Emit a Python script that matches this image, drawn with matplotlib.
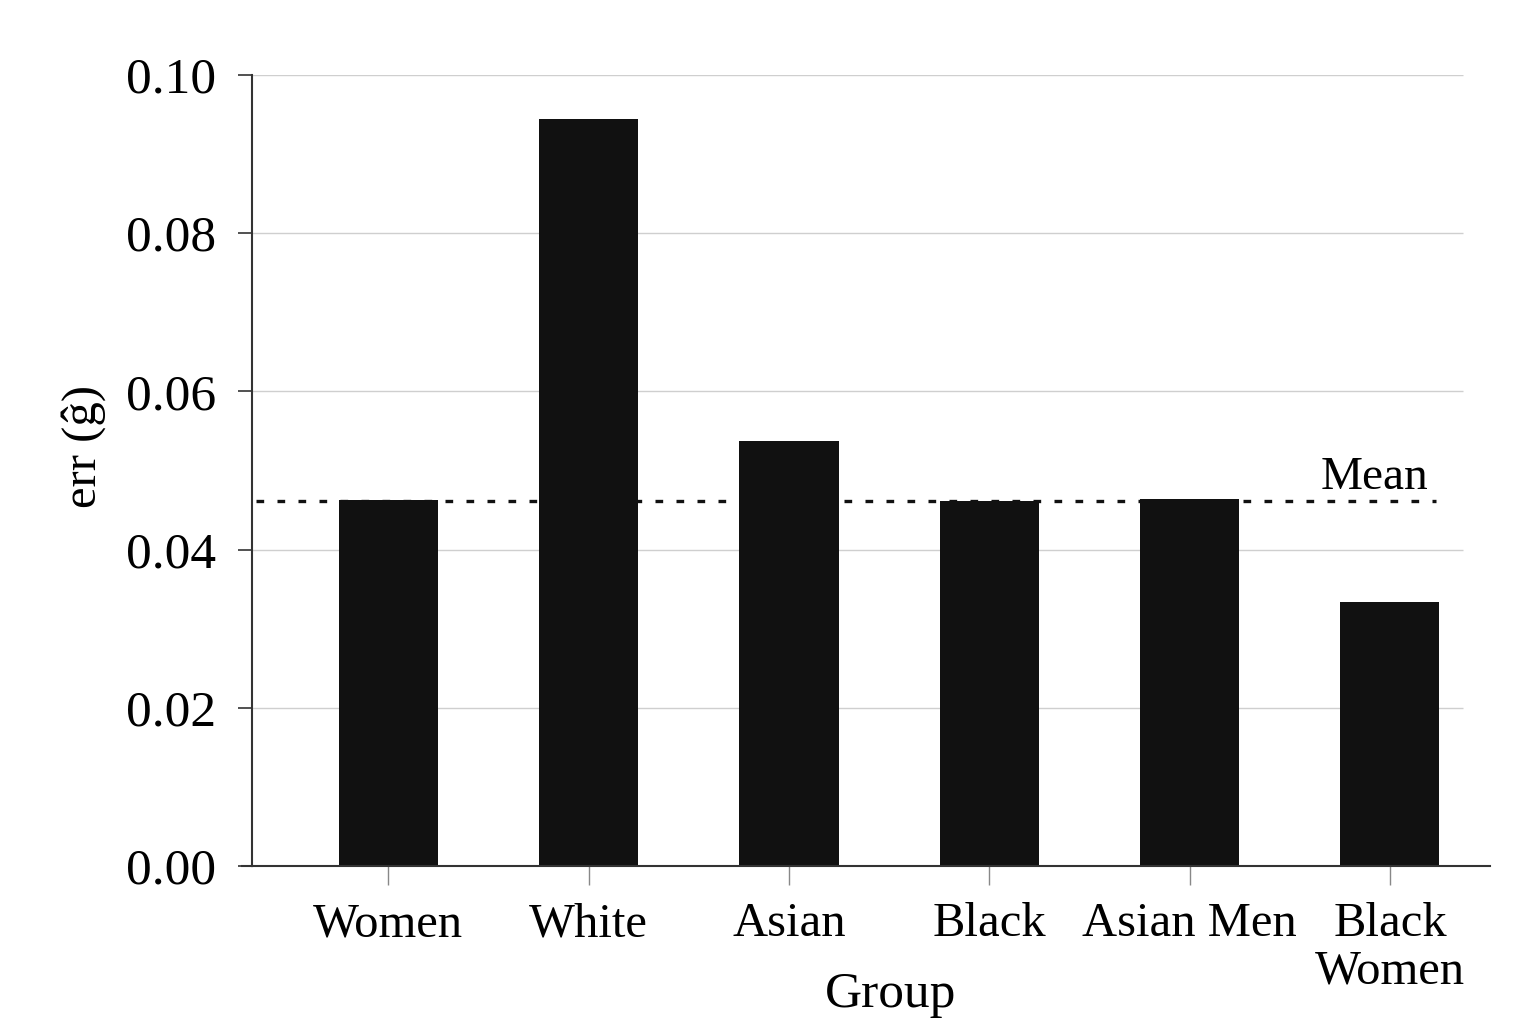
import numpy as np
import matplotlib
matplotlib.use("Agg")
import matplotlib.pyplot as plt

# data
groups = ["Women", "White", "Asian", "Black", "Asian Men", "Black\nWomen"]
errors = [0.0463, 0.0944, 0.0537, 0.0461, 0.0464, 0.0334]
mean_err = 0.0462
y_ticks = [0.00, 0.02, 0.04, 0.06, 0.08, 0.10]

plt.rcParams["font.family"] = ["Liberation Serif", "DejaVu Serif"]

fig = plt.figure(figsize=(15.36, 10.24), dpi=100)
ax = fig.add_axes([0.1641, 0.1543, 0.9701 - 0.1641, 0.9268 - 0.1543])

x = np.arange(len(groups))
ax.set_xlim(-0.68, 5.50)
ax.set_ylim(0, 0.10)

# gridlines stop short of the right end of the x axis
for yv in y_ticks[1:]:
    ax.hlines(yv, -0.68, 5.365, color="#cfcfcf", linewidth=1.0, zorder=0)

ax.bar(x, errors, width=0.495, color="#111111", zorder=2)

ax.hlines(mean_err, -0.66, 5.23, color="#111111", linewidth=2.4,
          linestyles=(0, (2.3, 4.0)), zorder=3)
ax.text(4.925, mean_err + 0.0014, "Mean", fontsize=34, ha="center", va="baseline")

for s in ["top", "right"]:
    ax.spines[s].set_visible(False)
for s in ["left", "bottom"]:
    ax.spines[s].set_color("#333333")
    ax.spines[s].set_linewidth(1.5)
# bottom line reaches under the y tick marks
ax.plot([-0.68 - 10 / 200.2, -0.68], [0, 0], color="#333333",
        linewidth=1.5, clip_on=False)

ax.set_yticks(y_ticks)
ax.set_yticklabels([f"{v:.2f}" for v in y_ticks], fontsize=37)
ax.tick_params(axis="y", length=10, width=1.2, color="#333333", pad=16)

ax.set_xticks(x)
ax.set_xticklabels(groups, fontsize=35, linespacing=1.1)
ax.tick_params(axis="x", length=14, width=1.0, color="#888888", pad=12)

fig.text(891 / 1536, 1 - 995 / 1024, "Group", fontsize=37, ha="center", va="center")
fig.text(84 / 1536, 1 - 447 / 1024, "err (ĝ)", fontsize=35, ha="center",
         va="center", rotation=90)

fig.savefig("out.png", dpi=100)
